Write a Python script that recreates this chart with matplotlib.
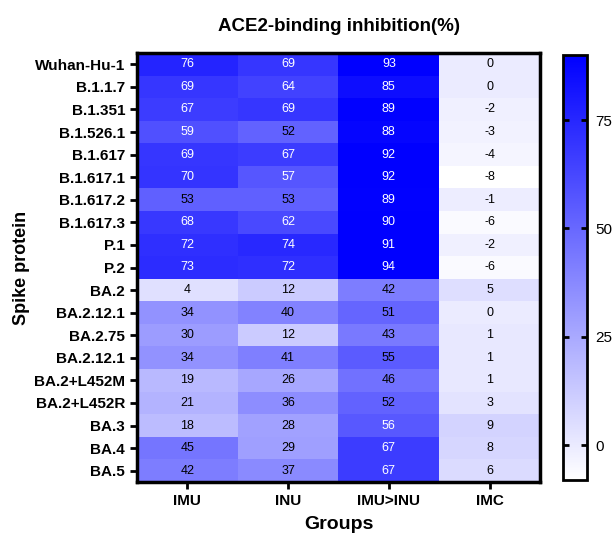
import numpy as np
import matplotlib.pyplot as plt
from matplotlib.colors import LinearSegmentedColormap

plt.rcParams['font.family'] = ['Liberation Sans', 'DejaVu Sans']

variants = ["Wuhan-Hu-1", "B.1.1.7", "B.1.351", "B.1.526.1", "B.1.617", "B.1.617.1",
            "B.1.617.2", "B.1.617.3", "P.1", "P.2", "BA.2", "BA.2.12.1", "BA.2.75",
            "BA.2.12.1", "BA.2+L452M", "BA.2+L452R", "BA.3", "BA.4", "BA.5"]
groups = ["IMU", "INU", "IMU>INU", "IMC"]

imu = [76, 69, 67, 59, 69, 70, 53, 68, 72, 73, 4, 34, 30, 34, 19, 21, 18, 45, 42]
inu = [69, 64, 69, 52, 67, 57, 53, 62, 74, 72, 12, 40, 12, 41, 26, 36, 28, 29, 37]
imu_inu = [93, 85, 89, 88, 92, 92, 89, 90, 91, 94, 42, 51, 43, 55, 46, 52, 56, 67, 67]
imc = [0, 0, -2, -3, -4, -8, -1, -6, -2, -6, 5, 0, 1, 1, 1, 3, 9, 8, 6]

data = np.array([imu, inu, imu_inu, imc]).T

cmap = LinearSegmentedColormap.from_list("wb", ["#ffffff", "#0000ff"])

fig = plt.figure(figsize=(6.14, 5.38), dpi=100)
ax = fig.add_axes([137/614, 1-482/538, 403/614, 429/538])
cax = fig.add_axes([563/614, 1-480/538, 24/614, 425/538])

im = ax.imshow(data, cmap=cmap, vmin=-8, vmax=90, aspect="auto")

for i in range(data.shape[0]):
    for j in range(data.shape[1]):
        v = data[i, j]
        ax.text(j, i, str(v), ha="center", va="center", fontsize=9,
                color="white" if v >= 56 else "black")

ax.set_xticks(range(len(groups)))
ax.set_xticklabels(groups, fontsize=11, fontweight="bold")
ax.set_yticks(range(len(variants)))
ax.set_yticklabels(variants, fontsize=11, fontweight="bold")
ax.tick_params(width=2, length=5)
for s in ax.spines.values():
    s.set_linewidth(2.5)

ax.set_xlabel("Groups", fontsize=14, fontweight="bold", labelpad=6)
ax.set_ylabel("Spike protein", fontsize=13, fontweight="bold", labelpad=3)
ax.set_title("ACE2-binding inhibition(%)", fontsize=13.5, fontweight="bold", pad=16)

cb = fig.colorbar(im, cax=cax, ticks=[0, 25, 50, 75])
cb.outline.set_linewidth(2)
cb.ax.yaxis.set_ticks_position("both")
cb.ax.tick_params(width=2, length=4, direction="in", labelsize=11, pad=6,
                  labelleft=False, labelright=True)

fig.savefig("out.png", dpi=100)
